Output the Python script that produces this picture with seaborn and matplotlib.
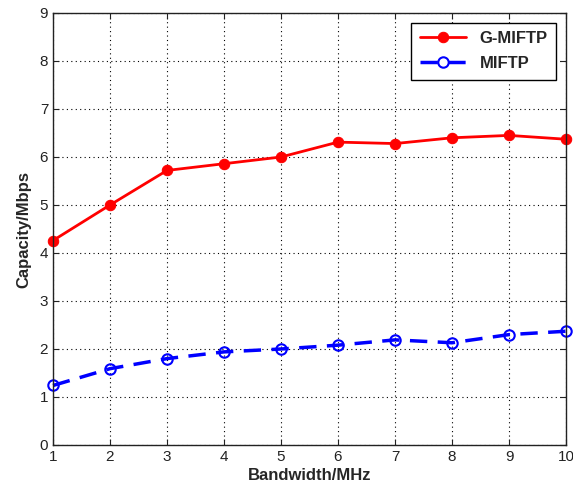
import pandas as pd
import matplotlib
matplotlib.use("Agg")
import matplotlib.pyplot as plt
import seaborn as sns

bandwidth = [1, 2, 3, 4, 5, 6, 7, 8, 9, 10]
g_miftp = [4.26, 5.0, 5.72, 5.86, 6.0, 6.31, 6.28, 6.40, 6.45, 6.37]
miftp = [1.24, 1.59, 1.80, 1.94, 2.0, 2.08, 2.19, 2.13, 2.30, 2.37]

sns.set_style("ticks")
plt.rcParams["font.family"] = ["Liberation Sans", "DejaVu Sans"]

fig = plt.figure(figsize=(5.73, 4.91), dpi=100)
ax = fig.add_axes([53 / 573, 46 / 491, 513 / 573, 432 / 491])

sns.lineplot(x=bandwidth, y=g_miftp, ax=ax, color="red", linewidth=2,
             marker="o", markersize=7.5, markerfacecolor="red",
             markeredgecolor="red", label="G-MIFTP", clip_on=False)
sns.lineplot(x=bandwidth, y=miftp, ax=ax, color="blue", linewidth=2.5,
             linestyle=(0, (5, 3)), marker="o", markersize=7.5,
             markerfacecolor="none", markeredgecolor="blue",
             markeredgewidth=1.5, label="MIFTP", clip_on=False)

ax.set_xlim(1, 10)
ax.set_ylim(0, 9)
ax.set_xticks(range(1, 11))
ax.set_yticks(range(0, 10))
ax.grid(True, linestyle=(0, (1, 3)), color="black", linewidth=0.8)
ax.tick_params(direction="in", top=True, right=True, labelsize=11, length=4,
               colors="#222222")
for s in ax.spines.values():
    s.set_linewidth(1)
    s.set_color("#222222")

ax.set_xlabel("Bandwidth/MHz", fontsize=12, fontweight="bold", labelpad=3)
ax.set_ylabel("Capacity/Mbps", fontsize=12, fontweight="bold", labelpad=6)

leg = ax.legend(loc="upper right", fancybox=False, edgecolor="black",
                framealpha=1, fontsize=12, handlelength=2.8,
                borderaxespad=0.6, borderpad=0.5, labelspacing=0.6)
for t in leg.get_texts():
    t.set_fontweight("bold")
leg.get_frame().set_linewidth(1)

fig.savefig("out.png", dpi=100)
